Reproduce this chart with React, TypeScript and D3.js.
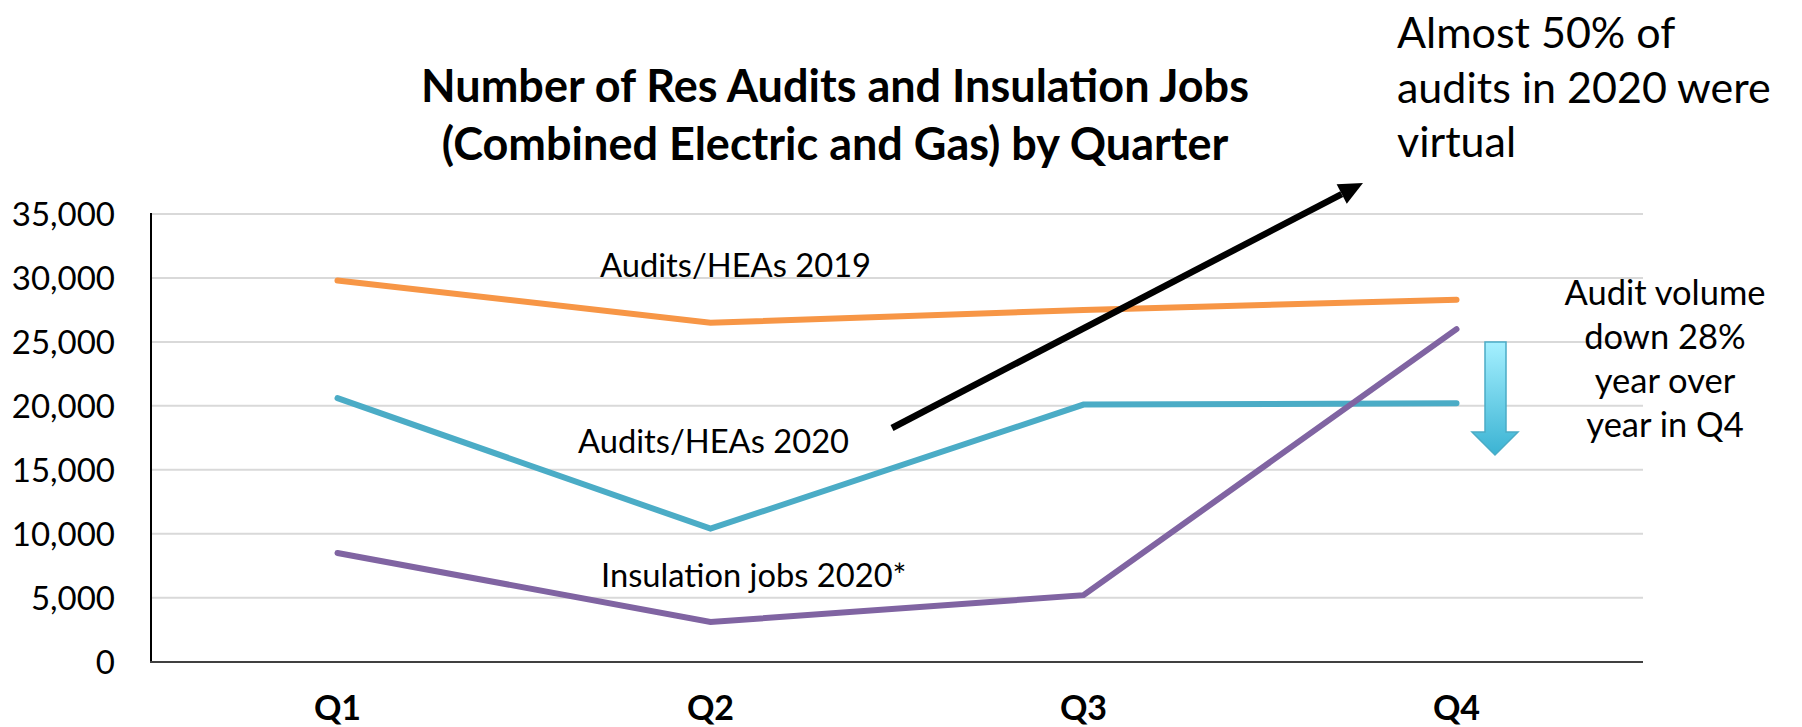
import React from "react";
import * as d3 from "d3";

const quarters = ["Q1", "Q2", "Q3", "Q4"];
const audits2019 = [29800, 26500, 27500, 28300];
const audits2020 = [20600, 10400, 20100, 20200];
const insulation2020 = [8500, 3100, 5200, 26000];
const yTicks = [0, 5000, 10000, 15000, 20000, 25000, 30000, 35000];
const titleLines = [
  "Number of Res Audits and Insulation Jobs",
  "(Combined Electric and Gas) by Quarter",
];
const virtualNote = ["Almost 50% of", "audits in 2020 were", "virtual"];
const downNote = ["Audit volume", "down 28%", "year over", "year in Q4"];

const W = 1802;
const H = 727;
const FONT = "Lato, 'Open Sans', sans-serif";

export default function App() {
  const x = d3.scaleBand<string>().domain(quarters).range([151, 1643]);
  const cx = (q: string) => (x(q) as number) + x.bandwidth() / 2;
  const y = d3.scaleLinear().domain([0, 35000]).range([661.7, 214]);
  const line = d3
    .line<number>()
    .x((_, i) => cx(quarters[i]))
    .y((d) => y(d));

  const series = [
    { name: "Audits/HEAs 2019", values: audits2019, color: "#F79646", lx: 600, ly: 276.5 },
    { name: "Audits/HEAs 2020", values: audits2020, color: "#4BACC6", lx: 578, ly: 453 },
    { name: "Insulation jobs 2020*", values: insulation2020, color: "#8064A2", lx: 601, ly: 586.5 },
  ];

  // black annotation arrow
  const a0 = [892, 428];
  const a1 = [1363, 183];
  const dx = a1[0] - a0[0];
  const dy = a1[1] - a0[1];
  const len = Math.hypot(dx, dy);
  const ux = dx / len;
  const uy = dy / len;
  const hl = 24;
  const hw = 11;
  const bx = a1[0] - ux * hl;
  const by = a1[1] - uy * hl;
  const head = `M${a1[0]},${a1[1]} L${bx - uy * hw},${by + ux * hw} L${bx + uy * hw},${by - ux * hw} Z`;

  // blue down arrow
  const downPath = "M1485,342 L1506,342 L1506,432 L1518,432 L1495,455 L1472,432 L1485,432 Z";

  const fmt = d3.format(",");

  return (
    <svg
      width={W}
      height={H}
      style={{ position: "absolute", left: 0, top: 0, background: "#fff" }}
      fontFamily={FONT}
    >
      <defs>
        <linearGradient id="downGrad" x1="0" y1="0" x2="0" y2="1">
          <stop offset="0%" stopColor="#A5F0FF" />
          <stop offset="100%" stopColor="#3BB3D3" />
        </linearGradient>
      </defs>
      <rect x={0} y={0} width={W} height={H} fill="#fff" />

      {/* title */}
      <text textAnchor="middle" fontWeight="bold" fontSize={45} fill="#000">
        {titleLines.map((t, i) => (
          <tspan key={i} x={835} y={102 + i * 58}>
            {t}
          </tspan>
        ))}
      </text>

      {/* gridlines */}
      {yTicks.filter((t) => t > 0).map((t) => (
        <line key={t} x1={151} x2={1643} y1={y(t)} y2={y(t)} stroke="#D9D9D9" strokeWidth={2} />
      ))}

      {/* y tick labels */}
      {yTicks.map((t) => (
        <text key={t} x={115} y={y(t)} dy="0.36em" textAnchor="end" fontSize={33} fill="#000">
          {fmt(t)}
        </text>
      ))}

      {/* axes */}
      <line x1={151} x2={151} y1={213} y2={662} stroke="#000" strokeWidth={2} />
      <line x1={150} x2={1643} y1={662} y2={662} stroke="#404040" strokeWidth={2} />

      {/* x labels */}
      {quarters.map((q) => (
        <text key={q} x={cx(q)} y={720} textAnchor="middle" fontWeight="bold" fontSize={34} fill="#000">
          {q}
        </text>
      ))}

      {/* series */}
      {series.map((s) => (
        <path
          key={s.name}
          d={line(s.values) || ""}
          fill="none"
          stroke={s.color}
          strokeWidth={6}
          strokeLinecap="round"
          strokeLinejoin="miter"
        />
      ))}

      {/* series labels */}
      {series.map((s) => (
        <text key={s.name + "l"} x={s.lx} y={s.ly} fontSize={32.7} fill="#000">
          {s.name}
        </text>
      ))}

      {/* black arrow */}
      <line x1={a0[0]} y1={a0[1]} x2={bx} y2={by} stroke="#000" strokeWidth={6.5} />
      <path d={head} fill="#000" />

      {/* virtual note */}
      <text fontSize={43} fill="#000">
        {virtualNote.map((t, i) => (
          <tspan key={i} x={1397} y={48 + i * 54.5}>
            {t}
          </tspan>
        ))}
      </text>

      {/* down arrow */}
      <path d={downPath} fill="url(#downGrad)" stroke="#4BACC6" strokeWidth={1.5} />

      {/* down note */}
      <text fontSize={34.5} fill="#000" textAnchor="middle">
        {downNote.map((t, i) => (
          <tspan key={i} x={1665} y={305 + i * 44}>
            {t}
          </tspan>
        ))}
      </text>
    </svg>
  );
}
